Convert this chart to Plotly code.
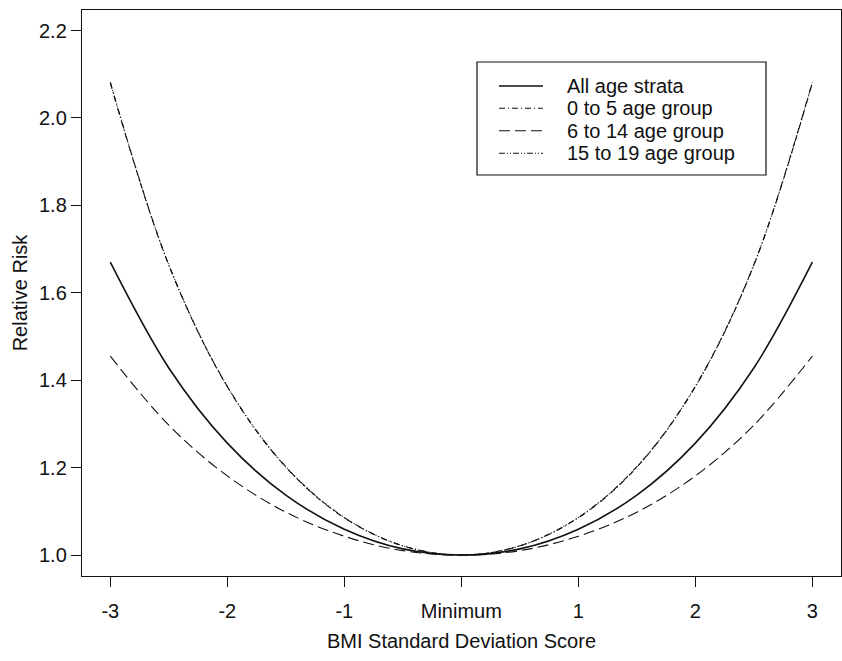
import plotly.graph_objects as go

# BMI SD score positions (0 = minimum)
bmi_sds = [-3.0, -2.5, -2.0, -1.5, -1.0, -0.5, 0.0, 0.5, 1.0, 1.5, 2.0, 2.5, 3.0]

rr_all = [1.670, 1.428, 1.256, 1.137, 1.059, 1.014, 1.000, 1.014, 1.059, 1.137, 1.256, 1.428, 1.670]
rr_0_5 = [2.080, 1.663, 1.385, 1.201, 1.085, 1.021, 1.000, 1.021, 1.085, 1.201, 1.385, 1.663, 2.080]
rr_6_14 = [1.455, 1.297, 1.181, 1.098, 1.043, 1.010, 1.000, 1.010, 1.043, 1.098, 1.181, 1.297, 1.455]
rr_15_19 = [2.082, 1.664, 1.386, 1.202, 1.086, 1.021, 1.000, 1.021, 1.086, 1.202, 1.386, 1.664, 2.082]

series_names = ["All age strata", "0 to 5 age group", "6 to 14 age group", "15 to 19 age group"]

x_tickvals = [-3, -2, -1, 0, 1, 2, 3]
x_ticktext = ["-3", "-2", "-1", "Minimum", "1", "2", "3"]
y_tickvals = [1.0, 1.2, 1.4, 1.6, 1.8, 2.0, 2.2]

dashes = ["solid", "6px,3px,1px,3px", "11px,5px", "6px,2px,1px,2px,1px,2px"]
widths = [1.6, 1.1, 1.1, 1.1]
ink = "#111111"

fig = go.Figure()
for name, vals, dash, w in zip(series_names, [rr_all, rr_0_5, rr_6_14, rr_15_19], dashes, widths):
    fig.add_trace(go.Scatter(
        x=bmi_sds, y=vals, mode="lines", name=name, showlegend=False,
        line=dict(color=ink, width=w, dash=dash, shape="spline", smoothing=1.0),
    ))

axis_common = dict(
    showgrid=False, zeroline=False, showline=True, linecolor=ink, linewidth=1.4,
    mirror=True, ticks="outside", ticklen=10, tickwidth=1.4, tickcolor=ink,
    tickfont=dict(size=20, color=ink), automargin=False,
)

# plot area in pixels (for the hand-placed legend box)
L, R, T, B = 82, 841, 10, 576
W, H = R - L, B - T
def px_x(p):
    return (p - L) / W
def px_y(p):
    return (B - p) / H

shapes = [dict(type="rect", xref="paper", yref="paper",
               x0=px_x(477), x1=px_x(766), y0=px_y(175), y1=px_y(62),
               line=dict(color=ink, width=1.2), fillcolor="white", layer="above")]
annotations = []
row_y = [86, 108.3, 130.7, 153.3]
for name, dash, w, ry in zip(series_names, dashes, widths, row_y):
    shapes.append(dict(type="line", xref="paper", yref="paper",
                       x0=px_x(499), x1=px_x(543), y0=px_y(ry), y1=px_y(ry),
                       line=dict(color=ink, width=w, dash=dash), layer="above"))
    annotations.append(dict(xref="paper", yref="paper", x=px_x(565), y=px_y(ry),
                            xanchor="left", yanchor="middle", text=name, showarrow=False,
                            font=dict(size=20, color=ink)))

fig.update_layout(
    width=842, height=661,
    margin=dict(l=L, r=842 - R, t=T, b=661 - B),
    paper_bgcolor="white", plot_bgcolor="white",
    font=dict(family="Liberation Sans, Arial, Helvetica, sans-serif", size=20, color=ink),
    xaxis=dict(
        range=[-3.242, 3.245], tickvals=x_tickvals, ticktext=x_ticktext,
        ticklabelstandoff=7,
        title=dict(text="BMI Standard Deviation Score", font=dict(size=20), standoff=12),
        **axis_common,
    ),
    yaxis=dict(
        range=[0.952, 2.247], tickvals=y_tickvals, tickformat=".1f",
        title=dict(text="Relative Risk", font=dict(size=20), standoff=5),
        **axis_common,
    ),
    shapes=shapes,
    annotations=annotations,
    showlegend=False,
)

fig.write_html("out.html", config={"displayModeBar": False},
               post_script="document.body.style.margin='0px';")
